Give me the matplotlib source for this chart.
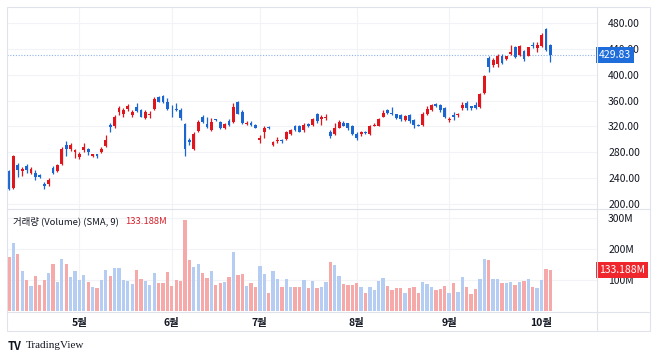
import matplotlib
matplotlib.use("Agg")
import matplotlib.pyplot as plt
import matplotlib.transforms as mtrans
from matplotlib.lines import Line2D
from matplotlib.patches import Rectangle
import numpy as np

plt.rcParams["font.family"] = ["Noto Sans CJK KR", "DejaVu Sans"]

# daily candles, 2025-04-08 .. 2025-10-03
opens = [251, 225, 260, 252, 259, 249, 249, 245, 232, 231, 256, 251, 262, 291, 286, 280,
         273, 284, 285, 274, 277, 280, 290, 322, 320, 343, 340, 347, 337, 350, 345, 333,
         338, 347, 365, 367, 357, 346, 347, 346, 324, 299, 285, 313, 335, 324, 314, 331,
         327, 317, 328, 327, 357, 343, 324, 326, 322, 299, 312, 319, 292, 297, 299, 301,
         308, 320, 321, 314, 324, 322, 339, 332, 333, 312, 308, 318, 326, 325, 321, 309,
         309, 312, 308, 321, 321, 335, 345, 341, 339, 338, 330, 338, 330, 323, 322, 339,
         345, 354, 353, 348, 330, 338, 337, 348, 356, 351, 353, 350, 371, 425, 415, 417,
         429, 424, 432, 442, 430, 436, 429, 446, 441, 444, 471, 446]
highs = [253, 276, 263, 258, 262, 258, 253, 246, 235, 241, 259, 262, 288, 297, 294, 285,
         281, 295, 287, 278, 278, 288, 307, 325, 338, 352, 348, 354, 345, 356, 347, 345,
         344, 365, 367, 369, 364, 353, 356, 348, 326, 303, 312, 330, 338, 335, 333, 332,
         329, 326, 331, 356, 359, 345, 328, 328, 324, 307, 320, 320, 297, 304, 301, 313,
         316, 323, 323, 325, 326, 333, 341, 338, 339, 315, 325, 330, 328, 326, 322, 312,
         313, 313, 322, 326, 333, 346, 347, 350, 340, 339, 337, 340, 331, 324, 342, 352,
         355, 356, 355, 350, 335, 343, 341, 357, 359, 352, 357, 371, 399, 428, 425, 432,
         431, 429, 446, 444, 445, 438, 443, 451, 451, 464, 472, 447]
lows = [222, 223, 242, 244, 248, 246, 238, 240, 224, 229, 246, 250, 261, 274, 282, 272,
        270, 281, 276, 273, 272, 279, 289, 312, 318, 338, 335, 344, 335, 343, 334, 332,
        333, 346, 357, 356, 345, 335, 344, 330, 275, 291, 283, 311, 325, 318, 313, 329,
        316, 316, 320, 326, 339, 324, 322, 321, 317, 294, 302, 316, 290, 295, 295, 299,
        307, 313, 311, 312, 319, 321, 325, 323, 330, 302, 307, 317, 320, 314, 307, 299,
        306, 308, 307, 320, 320, 334, 339, 338, 331, 329, 329, 326, 317, 320, 321, 337,
        344, 350, 343, 333, 327, 330, 335, 345, 346, 346, 347, 348, 370, 404, 412, 411,
        416, 422, 430, 425, 429, 421, 428, 441, 435, 442, 437, 419]
closes = [224, 274, 253, 254, 253, 255, 242, 242, 229, 238, 249, 260, 286, 286, 292, 283,
          277, 289, 281, 277, 275, 286, 299, 319, 335, 349, 345, 352, 343, 344, 335, 343,
          340, 363, 358, 358, 347, 345, 345, 333, 286, 296, 309, 327, 327, 319, 327, 330,
          317, 324, 322, 350, 340, 326, 326, 322, 318, 302, 317, 317, 296, 299, 297, 312,
          315, 315, 312, 323, 320, 331, 328, 334, 335, 306, 317, 327, 321, 318, 309, 303,
          311, 310, 321, 323, 331, 341, 341, 339, 333, 331, 336, 328, 323, 321, 340, 347,
          353, 352, 345, 334, 331, 335, 339, 353, 348, 348, 349, 370, 398, 411, 423, 429,
          418, 428, 435, 427, 444, 424, 442, 444, 446, 461, 438, 429.83]
# volume in millions
volumes = [173, 220, 183, 129, 100, 81, 113, 83, 100, 122, 152, 95, 168, 152, 109, 129,
           100, 115, 95, 79, 73, 100, 132, 113, 139, 139, 99, 97, 88, 132, 103, 97,
           85, 122, 91, 89, 125, 81, 100, 98, 294, 165, 141, 152, 124, 106, 129, 85,
           89, 95, 109, 191, 115, 120, 81, 89, 79, 146, 120, 59, 130, 104, 76, 103,
           79, 76, 76, 99, 74, 96, 74, 76, 95, 157, 147, 113, 87, 84, 84, 89,
           79, 59, 79, 68, 97, 105, 82, 68, 75, 73, 57, 75, 76, 57, 95, 87,
           79, 68, 70, 81, 59, 89, 60, 109, 76, 55, 71, 103, 168, 164, 103, 104,
           91, 91, 95, 85, 92, 96, 102, 76, 73, 99, 137, 133.188]

month_pos = [16, 37, 57, 79, 100, 121]
month_labels = ["5월", "6월", "7월", "8월", "9월", "10월"]
price_ticks = [200, 240, 280, 320, 360, 400, 440, 480]
vol_ticks = [100, 200, 300]
vol_tick_labels = ["100M", "200M", "300M"]

W, H = 658, 358
UP, DOWN = "#e0161e", "#1b66d1"
VUP, VDOWN = "#b5cdf3", "#f5a9a8"
GRID = "#f2f3f6"
BORDER = "#e0e3eb"
TXT = "#131722"


def fx(px):
    return px / W


def fy(py):
    return 1 - py / H


fig = plt.figure(figsize=(W / 100, H / 100), dpi=100)
fig.patch.set_facecolor("white")

left, right = 7, 597
ax = fig.add_axes([fx(left), fy(209), fx(right - left), fy(7) - fy(209)])
axv = fig.add_axes([fx(left), fy(311), fx(right - left), fy(209) - fy(311)])

x = np.arange(len(opens))
o = np.array(opens, float)
c = np.array(closes, float)
up = c >= o
ccol = np.where(up, UP, DOWN)

ax.vlines(x, lows, highs, colors=ccol, linewidth=0.9, zorder=3)
body = np.maximum(np.abs(c - o), 1.0)
ax.bar(x, body, bottom=np.minimum(o, c), width=0.65, color=ccol, zorder=4)

last = closes[-1]
ax.axhline(last, color="#8fb3ea", linewidth=0.8, linestyle=(0, (1, 1.5)), zorder=2)

xlim = (-0.45, 133.6)
for a in (ax, axv):
    a.set_xlim(*xlim)
    for s in a.spines.values():
        s.set_visible(False)
    a.set_facecolor("white")
    for m in month_pos:
        a.axvline(m, color=GRID, linewidth=0.8, zorder=0)

ax.set_ylim(192.8, 504.2)
ax.set_xticks([])
ax.yaxis.tick_right()
ax.set_yticks(price_ticks)
ax.set_yticklabels([f"{t:.2f}" for t in price_ticks])
ax.tick_params(axis="y", length=0, pad=8, labelsize=7.5, labelcolor=TXT)
for t in price_ticks:
    ax.axhline(t, color=GRID, linewidth=0.8, zorder=0)

tr = mtrans.blended_transform_factory(ax.transAxes, ax.transData)
ax.text(1.003, last, f"{last:.2f}", transform=tr, ha="left", va="center",
        fontsize=7.5, color="white", zorder=10,
        bbox=dict(boxstyle="square,pad=0.3", fc="#1e6ddb", ec="none"))

vcol = np.where(up, VUP, VDOWN)
axv.bar(x, volumes, width=0.75, color=vcol, zorder=3)
axv.set_ylim(0, 329)
axv.yaxis.tick_right()
axv.set_yticks(vol_ticks)
axv.set_yticklabels(vol_tick_labels)
axv.tick_params(axis="y", length=0, pad=8, labelsize=7.5, labelcolor=TXT)
for t in vol_ticks:
    axv.axhline(t, color=GRID, linewidth=0.8, zorder=0)
axv.set_xticks(month_pos)
axv.set_xticklabels(month_labels, fontweight="bold")
axv.tick_params(axis="x", length=0, pad=5, labelsize=7.5, labelcolor=TXT)

trv = mtrans.blended_transform_factory(axv.transAxes, axv.transData)
axv.text(1.003, volumes[-1], f"{volumes[-1]:.3f}M", transform=trv, ha="left",
         va="center", fontsize=7.5, color="white", zorder=10,
         bbox=dict(boxstyle="square,pad=0.3", fc="#f0262d", ec="none"))

# legend of the volume pane
leg = fig.text(fx(13), fy(221), "거래량 (Volume) (SMA, 9)", fontsize=6.8, color=TXT,
               va="center", ha="left")
fig.canvas.draw()
bb = leg.get_window_extent()
fig.text(bb.x1 / W + fx(6), fy(221), f"{volumes[-1]:.3f}M", fontsize=6.8,
         color="#d6202a", va="center", ha="left")

# frame and separators
fig.add_artist(Rectangle((fx(7), fy(331)), fx(650 - 7), fy(7) - fy(331),
                         transform=fig.transFigure, fill=False, ec=BORDER, lw=0.8))
for yy in (209, 311.5):
    fig.add_artist(Line2D([fx(7), fx(650)], [fy(yy), fy(yy)], color=BORDER, lw=0.8))
fig.add_artist(Line2D([fx(597), fx(597)], [fy(7), fy(331)], color=BORDER, lw=0.8))

# logo
fig.text(fx(8), fy(346), "TV", fontsize=8, fontweight="heavy", color=TXT,
         va="center", ha="left")
fig.text(fx(26), fy(346), "TradingView", fontsize=8, color=TXT,
         family="Liberation Serif", va="center", ha="left")

fig.savefig("out.png", dpi=100)
